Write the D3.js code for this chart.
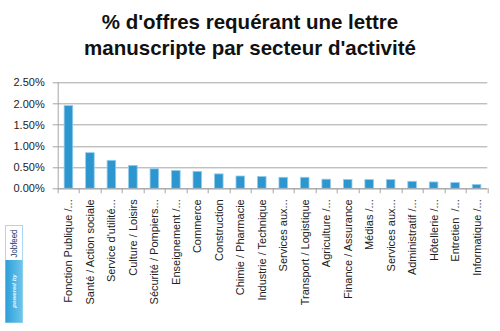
<!DOCTYPE html>
<html>
<head>
<meta charset="utf-8">
<script src="https://cdn.jsdelivr.net/npm/d3@7"></script>
<style>
  body { margin: 0; background: #fff; }
  svg { display: block; font-family: "Liberation Sans", Arial, sans-serif; }
</style>
</head>
<body>
<svg id="chart" width="500" height="331"></svg>
<script>
// data
var titleLines = ["% d'offres requérant une lettre", "manuscripte par secteur d'activité"];
var sectors = [
  "Fonction Publique /...", "Santé / Action sociale", "Service d'utilité...", "Culture / Loisirs",
  "Sécurité / Pompiers...", "Enseignement /...", "Commerce", "Construction",
  "Chimie / Pharmacie", "Industrie / Technique", "Services aux...", "Transport / Logistique",
  "Agriculture /...", "Finance / Assurance", "Médias /...", "Services aux...",
  "Administratif /...", "Hôtellerie /...", "Entretien  /...", "Informatique /..."
];
var shares = [1.95, 0.84, 0.66, 0.54, 0.46, 0.42, 0.40, 0.34, 0.29, 0.28,
              0.26, 0.26, 0.215, 0.21, 0.205, 0.205, 0.165, 0.15, 0.135, 0.09];
var yTicks = [0, 0.5, 1, 1.5, 2, 2.5];

var svg = d3.select('#chart');
var m = {left: 57.7, top: 82.3, right: 12.7, bottom: 143};
var w = 500 - m.left - m.right, h = 188.3 - m.top;

// title
svg.append('g').selectAll('text')
  .data(titleLines).enter().append('text')
  .attr('x', 250)
  .attr('y', function(d, i) { return 29 + i * 26; })
  .attr('text-anchor', 'middle')
  .style('font-size', '20.5px')
  .style('font-weight', 'bold')
  .style('fill', '#111')
  .text(function(d) { return d; });

var g = svg.append('g').attr('transform', 'translate(' + m.left + ',' + m.top + ')');

var x = d3.scaleBand().domain(d3.range(sectors.length)).range([0, w])
  .paddingInner(0.6).paddingOuter(0.3);
var y = d3.scaleLinear().domain([0, 2.5]).range([h, 0]);

// gridlines (with small outside ticks)
g.append('g').selectAll('line')
  .data(yTicks).enter().append('line')
  .attr('x1', -5).attr('x2', w)
  .attr('y1', function(d) { return Math.round(y(d)) + 0.5; })
  .attr('y2', function(d) { return Math.round(y(d)) + 0.5; })
  .style('stroke', '#a6a6a6').style('stroke-width', 1);

// y labels
var yAxis = d3.axisLeft(y).tickValues(yTicks).tickSize(0).tickPadding(13)
  .tickFormat(function(d) { return d.toFixed(2) + '%'; });
var ya = g.append('g').call(yAxis);
ya.select('.domain').remove();
ya.selectAll('text').style('font-size', '11px').style('fill', '#222')
  .style('font-family', '"Liberation Sans", Arial, sans-serif');

// y axis line
g.append('line').attr('x1', 0.5).attr('x2', 0.5).attr('y1', 0).attr('y2', h)
  .style('stroke', '#a6a6a6');

// bars
g.append('g').selectAll('rect')
  .data(shares).enter().append('rect')
  .attr('x', function(d, i) { return x(i); })
  .attr('width', x.bandwidth())
  .attr('y', function(d) { return y(d); })
  .attr('height', function(d) { return h - y(d); })
  .style('fill', '#2e96cf')
  .style('stroke', '#94cdee')
  .style('stroke-width', 0.8);

// x axis line + category ticks
var step = x.step();
g.append('line').attr('x1', 0).attr('x2', w)
  .attr('y1', Math.round(h) + 0.5).attr('y2', Math.round(h) + 0.5)
  .style('stroke', '#a6a6a6');
g.append('g').selectAll('line')
  .data(d3.range(sectors.length + 1)).enter().append('line')
  .attr('x1', function(d) { return Math.round(d * step) + 0.5; })
  .attr('x2', function(d) { return Math.round(d * step) + 0.5; })
  .attr('y1', h).attr('y2', h + 5)
  .style('stroke', '#a6a6a6');

// category labels, rotated
g.append('g').selectAll('text')
  .data(sectors).enter().append('text')
  .attr('transform', function(d, i) {
    return 'translate(' + (x(i) + x.bandwidth() / 2 + 4) + ',' + (h + 11) + ') rotate(-90)';
  })
  .attr('text-anchor', 'end')
  .style('font-size', '11px')
  .style('fill', '#222')
  .style('white-space', 'pre')
  .text(function(d) { return d; });

// "powered by Jobfeed" badge
var defs = svg.append('defs');
var grad = defs.append('linearGradient').attr('id', 'badge').attr('x1', 0).attr('x2', 1);
grad.append('stop').attr('offset', '0%').attr('stop-color', '#2c9fd9');
grad.append('stop').attr('offset', '100%').attr('stop-color', '#6cc6ec');
var logo = svg.append('g').attr('transform', 'translate(5,225)');
logo.append('rect').attr('x', 0.5).attr('y', 0.5).attr('width', 17).attr('height', 97)
  .style('fill', '#fff').style('stroke', '#a9d8f0');
logo.append('rect').attr('x', 0.5).attr('y', 35).attr('width', 17).attr('height', 62.5)
  .style('fill', 'url(#badge)');
logo.append('text')
  .attr('transform', 'translate(12,18.5) rotate(-90)')
  .attr('text-anchor', 'middle')
  .attr('textLength', 28)
  .attr('lengthAdjust', 'spacingAndGlyphs')
  .style('font-size', '9px')
  .style('fill', '#1c3766')
  .text('Jobfeed');
logo.append('text')
  .attr('transform', 'translate(11,66) rotate(-90)')
  .attr('text-anchor', 'middle')
  .style('font-size', '6px')
  .style('font-style', 'italic')
  .style('font-weight', 'bold')
  .style('fill', '#e8f6fd')
  .text('powered by');
</script>
</body>
</html>
